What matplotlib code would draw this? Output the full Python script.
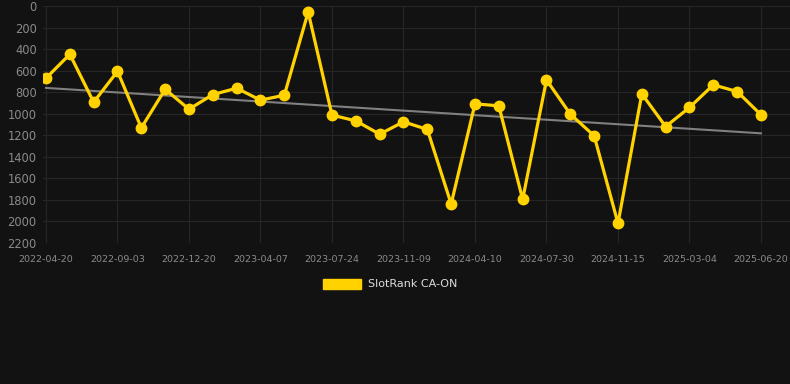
import matplotlib
matplotlib.use("Agg")
import matplotlib.pyplot as plt
from matplotlib.patches import Patch
import numpy as np

dates = ["2022-04-20", "", "", "2022-09-03", "", "", "2022-12-20", "", "", "2023-04-07",
         "", "", "2023-07-24", "", "", "2023-11-09", "", "", "2024-04-10", "", "",
         "2024-07-30", "", "", "2024-11-15", "", "", "2025-03-04", "", "", "2025-06-20"]
ranks = [670, 448, 893, 606, 1131, 773, 958, 822, 763, 874, 828, 56, 1013, 1066, 1190,
         1075, 1146, 1838, 908, 927, 1795, 686, 1004, 1205, 2018, 816, 1119, 942, 732, 794, 1010]
series_name = "SlotRank CA-ON"
y_ticks = [0, 200, 400, 600, 800, 1000, 1200, 1400, 1600, 1800, 2000, 2200]

BG = "#121212"
YEL = "#FFD200"

fig = plt.figure(figsize=(7.9, 3.84), dpi=100, facecolor=BG)
ax = fig.add_axes([43/790, (384-243)/384, (790-43)/790, (243-6)/384])
ax.set_facecolor(BG)

x = np.arange(len(ranks))
coef = np.polyfit(x, ranks, 1)
ax.plot(x, np.polyval(coef, x), color="#808080", lw=1.5, zorder=2)
ax.plot(x, ranks, color=YEL, lw=2.3, marker="o", markersize=7.5, zorder=3)

ax.set_xlim(-3/23.83, 30 + 29/23.83)
ax.set_ylim(2200, 0)
ax.set_yticks(y_ticks)
ax.set_yticklabels([str(v) for v in y_ticks])
tick_idx = [i for i, d in enumerate(dates) if d]
ax.set_xticks(tick_idx)
ax.set_xticklabels([dates[i] for i in tick_idx])

for s in ax.spines.values():
    s.set_visible(False)
ax.grid(True, color="#262626", lw=0.8)
ax.set_axisbelow(True)
ax.tick_params(axis="y", length=0, pad=4.5, labelsize=8.3, colors="#8a8a8a")
ax.tick_params(axis="x", length=0, pad=9, labelsize=6.8, colors="#8a8a8a")

leg = fig.legend(handles=[Patch(facecolor=YEL, edgecolor=YEL, label=series_name)],
                 loc="center", bbox_to_anchor=(390/790, (384-284)/384),
                 frameon=False, fontsize=8, handlelength=3.5, handleheight=1.05,
                 handletextpad=0.6, labelcolor="#dddddd")

fig.savefig("out.png", dpi=100, facecolor=BG)
